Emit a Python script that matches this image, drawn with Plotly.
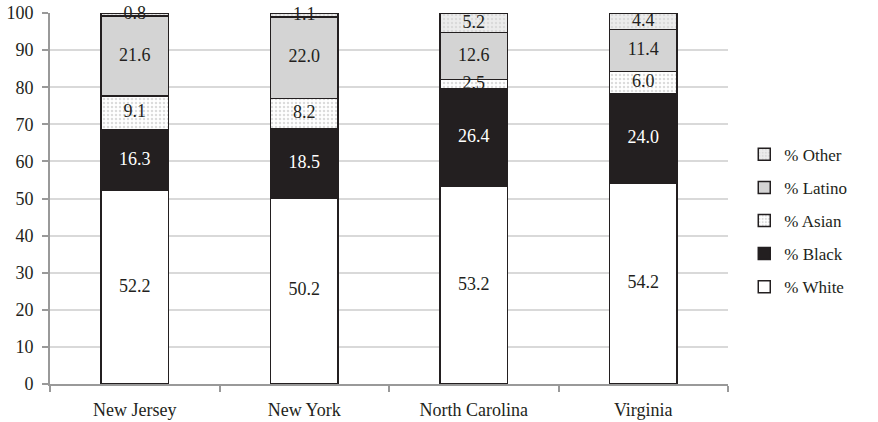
import plotly.graph_objects as go

# Racial/ethnic composition by state (percent)
states = ["New Jersey", "New York", "North Carolina", "Virginia"]
pct_white = [52.2, 50.2, 53.2, 54.2]
pct_black = [16.3, 18.5, 26.4, 24.0]
pct_asian = [9.1, 8.2, 2.5, 6.0]
pct_latino = [21.6, 22.0, 12.6, 11.4]
pct_other = [0.8, 1.1, 5.2, 4.4]
y_ticks = list(range(0, 101, 10))

INK = "#231f20"
FONT = "Liberation Serif"

# (legend name, values, marker fill, label colour, legend rank)
series = [
    ("% White", pct_white, dict(color="#ffffff"), INK, 5),
    ("% Black", pct_black, dict(color="#231f20"), "#ffffff", 4),
    ("% Asian", pct_asian, dict(color="#ffffff",
                                pattern=dict(shape=".", fgcolor="#b8b8b8", bgcolor="#ffffff",
                                             size=4, solidity=0.3)), INK, 3),
    ("% Latino", pct_latino, dict(color="#d4d4d4"), INK, 2),
    ("% Other", pct_other, dict(color="#e6e6e6",
                                pattern=dict(shape=".", fgcolor="#c8c8c8", bgcolor="#ececec",
                                             size=4, solidity=0.3)), INK, 1),
]

fig = go.Figure()
base = [0.0] * len(states)
label_traces = []
for name, vals, mk, tcol, rank in series:
    mk = dict(mk)
    mk["line"] = dict(color=INK, width=1.5)
    fig.add_trace(go.Bar(
        x=states, y=vals, name=name, legendgroup=name, legendrank=rank,
        marker=mk, width=0.4, hoverinfo="skip",
    ))
    # value labels centred in each stacked segment
    mids = [b + v / 2 for b, v in zip(base, vals)]
    label_traces.append(go.Scatter(
        x=states, y=mids, mode="text",
        text=[f"{v:.1f}" for v in vals],
        textposition="middle center",
        textfont=dict(family=FONT, size=18, color=tcol),
        showlegend=False, hoverinfo="skip", cliponaxis=False,
    ))
    base = [b + v for b, v in zip(base, vals)]

for tr in label_traces:
    fig.add_trace(tr)

fig.update_layout(
    barmode="stack",
    width=878, height=422,
    margin=dict(l=50, r=150, t=13, b=38),
    paper_bgcolor="#ffffff", plot_bgcolor="#ffffff",
    font=dict(family=FONT, size=18, color=INK),
    showlegend=True,
    legend=dict(
        x=1.024, xanchor="left", y=0.44, yanchor="middle",
        traceorder="grouped", tracegroupgap=8,
        font=dict(family=FONT, size=17, color=INK),
        itemwidth=30, bgcolor="rgba(0,0,0,0)",
    ),
    xaxis=dict(
        type="category", tickson="boundaries", automargin=False,
        showline=True, linecolor="#999999", linewidth=2,
        ticks="outside", ticklen=6, tickcolor="#999999", tickwidth=2,
        ticklabelstandoff=8,
        showgrid=False, tickfont=dict(family=FONT, size=18, color=INK),
        range=[-0.5, 3.5],
    ),
    yaxis=dict(
        range=[0, 100], tickvals=y_ticks, automargin=False,
        showline=True, linecolor="#999999", linewidth=2,
        ticks="outside", ticklen=6, tickcolor="#999999", tickwidth=2,
        ticklabelstandoff=5,
        showgrid=True, gridcolor="#d9d9d9", gridwidth=2,
        zeroline=False, tickfont=dict(family=FONT, size=18, color=INK),
    ),
)

fig.write_html("out.html")
